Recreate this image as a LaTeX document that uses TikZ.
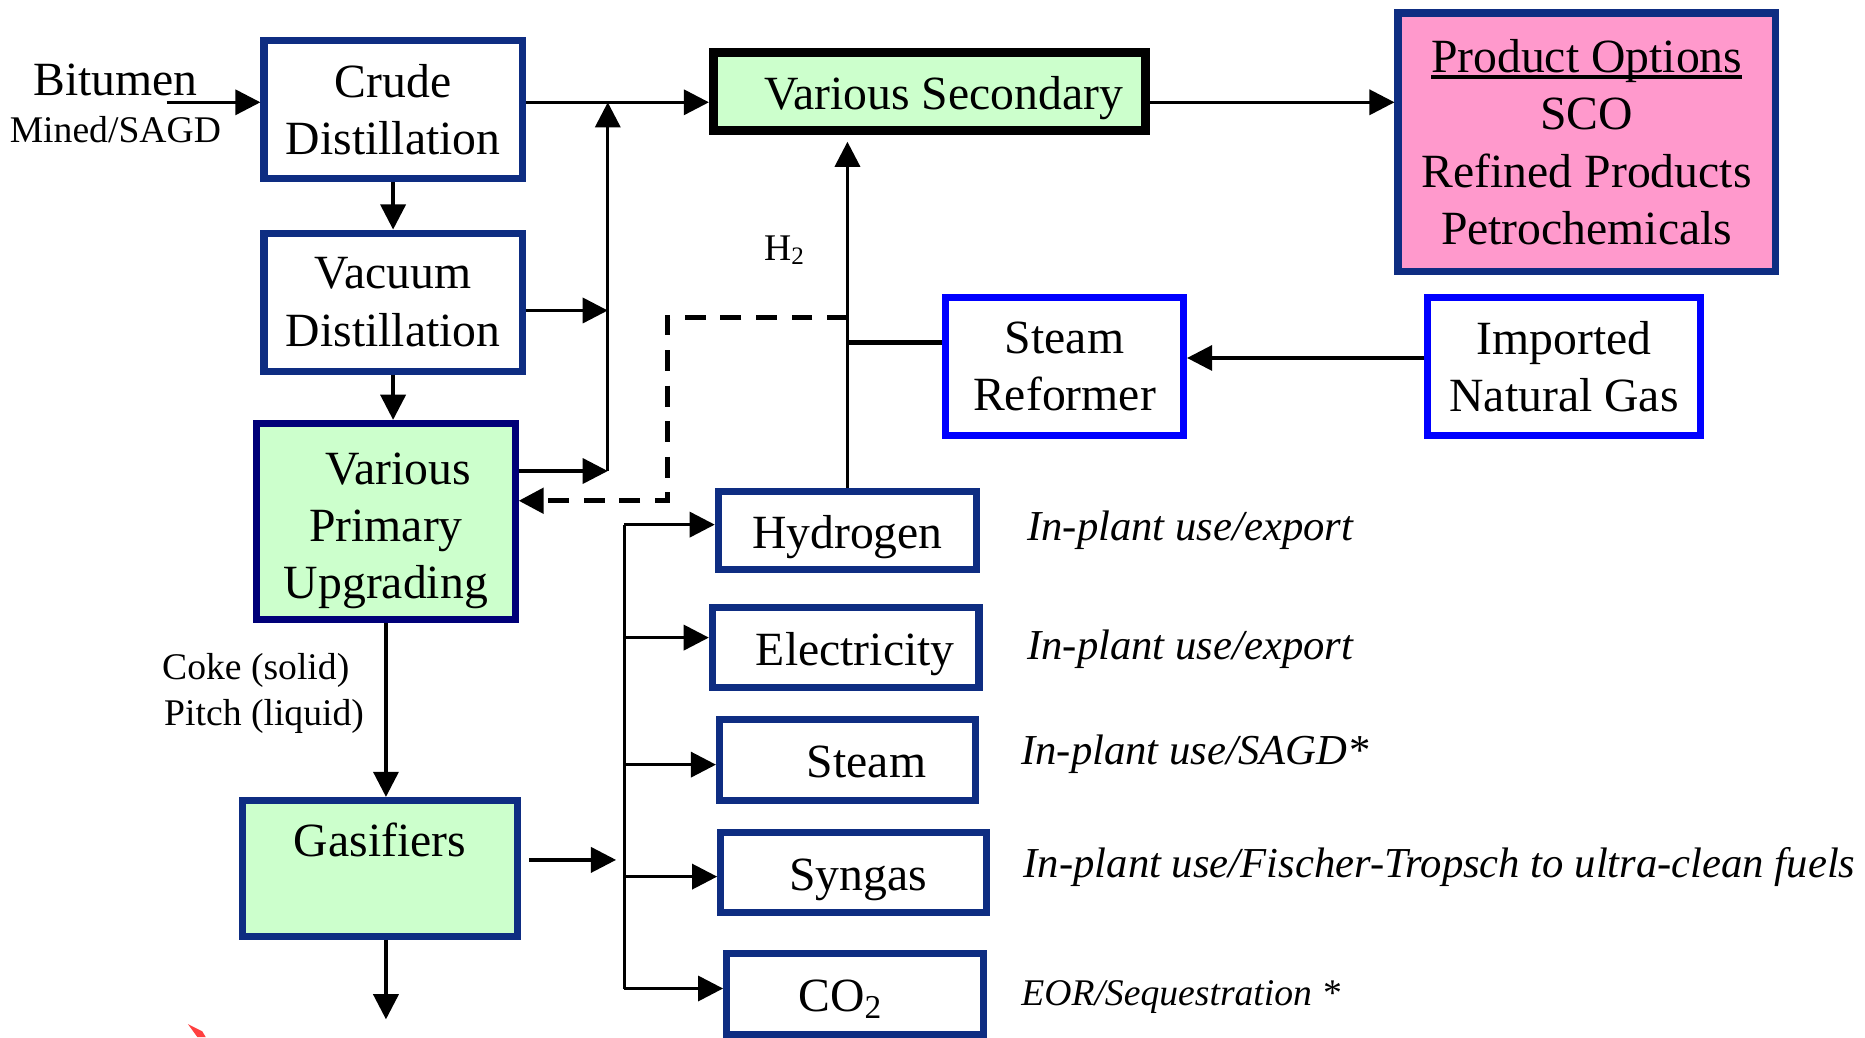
\documentclass[tikz,border=0pt]{standalone}
\usepackage{fontspec}
\setmainfont{Liberation Serif}
\usetikzlibrary{arrows.meta}
\newcommand{\lineunder}[1]{\setbox0\hbox{#1}\leavevmode\rlap{\rule[-1.6pt]{\wd0}{0.9pt}}\box0}
\definecolor{boxnavy}{RGB}{14,45,130}
\definecolor{darknavy}{RGB}{0,0,120}
\definecolor{pureblue}{RGB}{0,0,255}
\definecolor{lightgreen}{RGB}{204,255,204}
\definecolor{pinkfill}{RGB}{255,153,204}
\tikzstyle{unit}=[draw=boxnavy,line width=1.7pt,fill=white,align=center,inner sep=2pt,font=\fontsize{11.4}{13.7}\selectfont]
\tikzstyle{oneline}=[text height=11pt,text depth=2.6pt]
\tikzstyle{greenunit}=[unit,fill=lightgreen]
\tikzstyle{gasunit}=[unit,draw=pureblue]
\tikzstyle{flow}=[line width=0.8pt,-{Triangle[length=6pt,width=6pt]}]
\tikzstyle{usetext}=[anchor=west,inner sep=0pt,font=\fontsize{10.2}{12}\selectfont\itshape]
\tikzstyle{smalltext}=[inner sep=0pt,font=\fontsize{9}{11}\selectfont]

\begin{document}
\begin{tikzpicture}[x=0.01cm,y=-0.01cm]
  \useasboundingbox (0,0) rectangle (1568,872);

  \node[unit,minimum width=2.17cm,minimum height=1.16cm] (crude) at (330.5,92) {Crude\\Distillation};
  \node[unit,minimum width=2.17cm,minimum height=1.16cm] (vacuum) at (330.5,254) {Vacuum\\Distillation};
  \node[greenunit,draw=darknavy,minimum width=2.17cm,minimum height=1.65cm] (primary) at (324.5,438.5) {\rule{0pt}{12pt}\hspace*{0.5em}Various\\Primary\\Upgrading};
  \node[greenunit,minimum width=2.31cm,minimum height=1.14cm] (gasifier) at (319.5,730) {Gasifiers\\[-4pt]\strut};
  \node[greenunit,oneline,draw=black,line width=2.2pt,minimum width=3.63cm,minimum height=0.66cm] (secondary) at (781.5,77) {\hspace*{0.6em}Various Secondary};
  \node[unit,fill=pinkfill,minimum width=3.17cm,minimum height=2.17cm] (product) at (1334,119.5) {\lineunder{Product Options}\\SCO\\Refined Products\\Petrochemicals};
  \node[gasunit,minimum width=2.0cm,minimum height=1.16cm] (reformer) at (895,308) {Steam\\Reformer};
  \node[gasunit,minimum width=2.3cm,minimum height=1.16cm] (natgas) at (1315,308) {Imported\\Natural Gas};
  \node[unit,oneline,minimum width=2.17cm,minimum height=0.66cm] (hydrogen) at (712.5,446) {Hydrogen};
  \node[unit,oneline,minimum width=2.24cm,minimum height=0.67cm] (electricity) at (711,544.5) {\hspace*{0.4em}Electricity};
  \node[unit,oneline,minimum width=2.15cm,minimum height=0.68cm] (steam) at (712.5,639) {\hspace*{0.8em}Steam};
  \node[unit,oneline,minimum width=2.23cm,minimum height=0.67cm] (syngas) at (717.5,733.5) {\hspace*{0.2em}Syngas};
  \node[unit,oneline,minimum width=2.16cm,minimum height=0.68cm] (co2) at (719,836) {CO\textsubscript{2}\hspace*{0.6em}};

  \node[font=\fontsize{11.4}{13}\selectfont,inner sep=0pt] (bitumen) at (97,67) {Bitumen};
  \node[smalltext] (mined) at (97,109) {Mined/SAGD};
  \node[smalltext] (coke) at (215,564) {Coke (solid)};
  \node[smalltext] (pitch) at (222,602) {Pitch (liquid)};
  \node[smalltext] (htwo) at (660,210) {H\textsubscript{2}};
  \node[usetext] (usehydrogen) at (863,446) {In-plant use/export};
  \node[usetext] (useelectricity) at (863,546) {In-plant use/export};
  \node[usetext] (usesteam) at (858,634) {In-plant use/SAGD*};
  \node[usetext] (usesyngas) at (860,729) {In-plant use/Fischer-Tropsch to ultra-clean fuels};
  \node[usetext,font=\fontsize{9}{11}\selectfont\itshape] (useco2) at (858,838) {EOR/Sequestration *};

  \coordinate (bitin) at (140,86);
  \coordinate (bustop) at (511,86);
  \coordinate (busbot) at (511,396);
  \coordinate (gasout) at (324.5,857);
  \coordinate (hjoin) at (713,288);
  \coordinate (dtop) at (713,267);
  \coordinate (dbend) at (561,267);
  \coordinate (dlow) at (561,421);
  \coordinate (split) at (525,441);

  \draw[flow] (bitin) -- (bitin -| crude.west);
  \draw[flow] (crude.south) -- (vacuum.north);
  \draw[flow] (vacuum.south) -- (vacuum.south |- primary.north);
  \draw[flow] (primary.south) -- (primary.south |- gasifier.north);
  \draw[flow] (gasifier.south -| gasout) -- (gasout);
  \draw[flow] (crude.east |- bustop) -- (bustop -| secondary.west);
  \draw[flow] (busbot) -- (bustop);
  \draw[flow] ([yshift=-2pt]vacuum.east) -- ([yshift=-2pt]vacuum.east -| bustop);
  \draw[flow] (primary.east |- busbot) -- (busbot);
  \draw[flow] (secondary.east |- bustop) -- (bustop -| product.west);
  \draw[flow] ([yshift=2pt]natgas.west) -- ([yshift=2pt]reformer.east);
  \draw[line width=1.3pt] (reformer.west |- hjoin) -- (hjoin);
  \draw[flow,shorten >=1.5pt] (hydrogen.north) -- (hydrogen.north |- secondary.south);
  \draw[line width=1.2pt,dash pattern=on 5pt off 3.5pt,-{Triangle[length=6pt,width=6pt]}] (dtop) -- (dbend) -- (dlow) -- (dlow -| primary.east);
  \draw[line width=0.8pt] (split) -- ([yshift=1.4pt]split |- co2.west);
  \foreach \out/\dy in {hydrogen/1.4pt,electricity/2.4pt,steam/-1.1pt,syngas/-1pt,co2/1.4pt}
    \draw[flow] ([yshift=\dy]split |- \out.west) -- ([yshift=\dy]\out.west);
  \draw[flow,shorten <=2pt,shorten >=2pt] ([yshift=2pt]gasifier.east) -- ([yshift=2pt]split |- gasifier.east);

  \fill[red!75] (158,861) -- (170,867) -- (173,872) -- (166,872) -- cycle;
\end{tikzpicture}
\end{document}
